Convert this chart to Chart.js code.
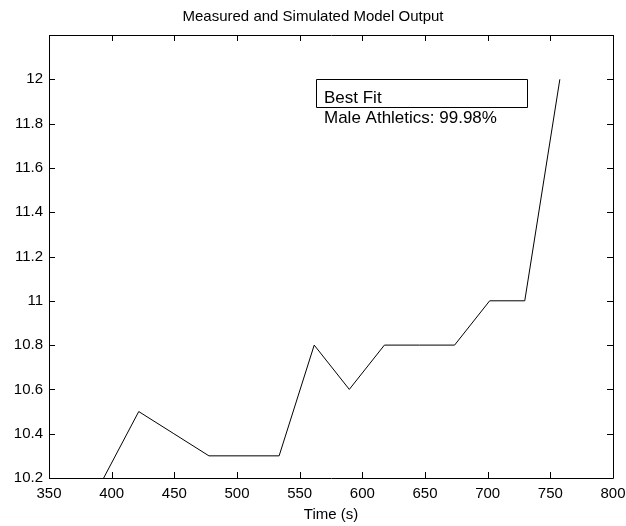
<!DOCTYPE html>
<html>
<head>
<meta charset="utf-8">
<script src="https://cdn.jsdelivr.net/npm/chart.js@4"></script>
<style>
  html, body { margin: 0; padding: 0; background: #fff; }
  #wrap { width: 626px; height: 526px; }
</style>
</head>
<body>
<div id="wrap"><canvas id="model-output"></canvas></div>
<script>
// values
const times = [393.6, 421.6, 449.6, 477.6, 505.6, 533.6, 561.6, 589.6, 617.6, 645.6, 673.6, 701.6, 729.6, 757.6];
const output = [10.2, 10.5, 10.4, 10.3, 10.3, 10.3, 10.8, 10.6, 10.8, 10.8, 10.8, 11.0, 11.0, 12.0];
const xTicks = [350, 400, 450, 500, 550, 600, 650, 700, 750, 800];
const yTicks = [10.2, 10.4, 10.6, 10.8, 11, 11.2, 11.4, 11.6, 11.8, 12];
const legendLines = ['Best Fit', 'Male Athletics: 99.98%'];

Chart.defaults.font.family = '"Liberation Sans", Arial, sans-serif';
Chart.defaults.font.size = 15;
Chart.defaults.color = '#000';

// MATLAB style box with ticks pointing inwards, plus the odd legend box
const matlabBox = {
   id: 'matlabBox',
   afterDraw(chart) {
      const c = chart.ctx;
      const a = chart.chartArea;
      const x = chart.scales.x, y = chart.scales.y;
      const len = 6;
      c.save();
      c.strokeStyle = '#000';
      c.lineWidth = 1;
      c.beginPath();
      c.rect(Math.round(a.left) + 0.5, Math.round(a.top) + 0.5,
             Math.round(a.right - a.left), Math.round(a.bottom - a.top));
      xTicks.forEach(function (v) {
         const px = Math.round(x.getPixelForValue(v)) + 0.5;
         c.moveTo(px, a.bottom); c.lineTo(px, a.bottom - len);
         c.moveTo(px, a.top); c.lineTo(px, a.top + len);
      });
      yTicks.forEach(function (v) {
         const py = Math.round(y.getPixelForValue(v)) + 0.5;
         c.moveTo(a.left, py); c.lineTo(a.left + len, py);
         c.moveTo(a.right, py); c.lineTo(a.right - len, py);
      });
      c.stroke();

      // legend
      const lx = 316, ly = Math.round(y.getPixelForValue(12));
      c.beginPath();
      c.rect(lx + 0.5, ly + 0.5, 211, 28);
      c.stroke();
      c.fillStyle = '#000';
      c.font = '17px "Liberation Sans", Arial, sans-serif';
      c.textBaseline = 'middle';
      c.fillText(legendLines[0], lx + 8, ly + 19);
      c.fillText(legendLines[1], lx + 8, ly + 39);
      c.restore();
   }
};

const ctx = document.getElementById('model-output').getContext('2d');
const modelChart = new Chart(ctx, {
   type: 'line',
   data: {
      datasets: [{
         label: legendLines[0],
         data: times.map(function (t, i) { return { x: t, y: output[i] }; }),
         borderColor: '#000',
         borderWidth: 1,
         pointRadius: 0,
         tension: 0,
         fill: false
      }]
   },
   options: {
      responsive: true,
      maintainAspectRatio: false,
      animation: false,
      layout: {
         padding: 0
      },
      plugins: {
         legend: { display: false },
         tooltip: { enabled: false },
         title: {
            display: true,
            text: 'Measured and Simulated Model Output',
            font: { size: 15, weight: 'normal' },
            padding: { top: 8, bottom: 9 }
         }
      },
      scales: {
         x: {
            type: 'linear',
            min: 350,
            max: 800,
            afterBuildTicks: function (s) { s.ticks = xTicks.map(function (v) { return { value: v }; }); },
            afterFit: function (s) { s.height = 48; s.paddingLeft = 0; s.paddingRight = 13; },
            grid: { display: false, drawTicks: false },
            border: { display: false },
            ticks: { padding: 7, maxRotation: 0, autoSkip: false },
            title: { display: true, text: 'Time (s)', padding: { top: 4, bottom: 2 } }
         },
         y: {
            min: 10.2,
            max: 12.2,
            afterBuildTicks: function (s) { s.ticks = yTicks.map(function (v) { return { value: v }; }); },
            afterFit: function (s) { s.width = 49; },
            grid: { display: false, drawTicks: false },
            border: { display: false },
            ticks: {
               padding: 6,
               autoSkip: false,
               callback: function (v) { return String(+v.toFixed(1)); }
            }
         }
      }
   },
   plugins: [matlabBox]
});
</script>
</body>
</html>
